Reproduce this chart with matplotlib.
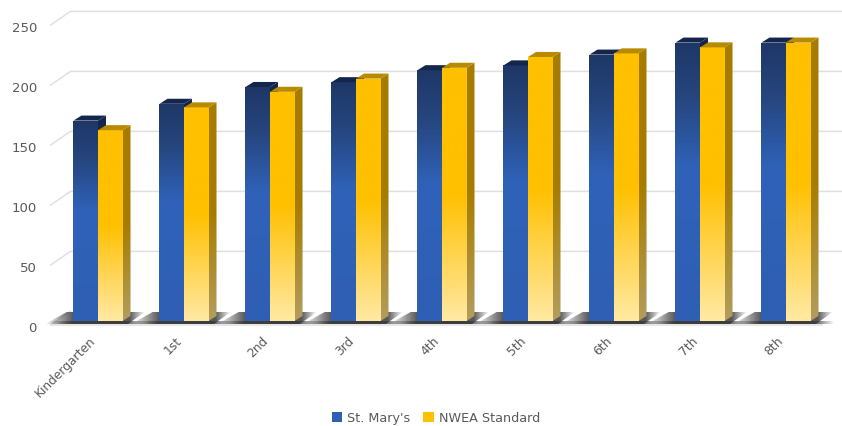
import matplotlib
matplotlib.use('Agg')
import matplotlib.pyplot as plt
import numpy as np
from matplotlib.colors import LinearSegmentedColormap, to_rgb
from matplotlib.patches import Patch, Polygon
from matplotlib.transforms import ScaledTranslation

# values
grades = ['Kindergarten', '1st', '2nd', '3rd', '4th', '5th', '6th', '7th', '8th']
st_marys = [167, 181, 195, 199, 209, 213, 222, 232, 232]
nwea = [159, 178, 191, 202, 211, 220, 223, 228, 232]
y_ticks = [0, 50, 100, 150, 200, 250]

TEXT = '#595959'
GRID = '#e0e0e0'
BAR_W = 0.285
DX, DY = 0.093, 4.2      # depth of the fake 3d, in data units
BACK_X, BACK_Y = 0.23, 8  # offset of the back wall from the front plane

fig = plt.figure(figsize=(8.42, 4.27), dpi=100)
ax = fig.add_axes([55 / 842, 105 / 427, 774 / 842, 300 / 427])
ax.patch.set_visible(False)
for s in ax.spines.values():
    s.set_visible(False)


def shaded(corners, stops, zorder, horizontal=False):
    # gradient filled polygon: imshow clipped to the shape
    cmap = LinearSegmentedColormap.from_list('g', stops)
    xs = [c[0] for c in corners]
    ys = [c[1] for c in corners]
    grad = np.linspace(1, 0, 256).reshape(-1, 1)
    if horizontal:
        grad = np.linspace(0, 1, 256).reshape(1, -1)
    im = ax.imshow(grad, cmap=cmap, vmin=0, vmax=1, aspect='auto', zorder=zorder,
                   extent=(min(xs), max(xs), min(ys), max(ys)),
                   interpolation='bilinear', origin='upper')
    im.set_clip_box(fig.bbox)  # floor goes below the axes box
    im.set_clip_path(Polygon(corners, closed=True, transform=ax.transData))


blue_face = [(0, '#2e5fb5'), (0.55, '#2f62b8'), (0.8, '#26467f'), (1, '#1e3766')]
gold_face = [(0, '#ffe9a3'), (0.5, '#ffc000'), (1, '#ffc000')]
gold_side = [(0, '#b39d5e'), (0.5, '#a67c00'), (1, '#a67c00')]
blue_side = [(0, '#1f3d75'), (1, '#14264d')]
shade = to_rgb('#3a3a3a')

# walls and floor lines
for v in y_ticks[1:]:
    ax.plot([-0.55, -0.55 + BACK_X, 8.8], [v - 3.3, v + BACK_Y, v + BACK_Y],
            color=GRID, lw=1.1, clip_on=False, zorder=1)
ax.plot([-0.55, 8.42], [-3.3, -3.3], color=GRID, lw=1.1, clip_on=False, zorder=1)
ax.plot([-0.55, -0.55 + BACK_X], [-3.3, BACK_Y], color=GRID, lw=1.1, clip_on=False, zorder=1)

for i, (a, b) in enumerate(zip(st_marys, nwea)):
    x0 = i - BAR_W
    x1 = i
    x2 = i + BAR_W

    # floor shadow, skewed like the floor
    stops = [(0, (*shade, 0)), (0.28, (*shade, 0.85)), (0.85, (*shade, 0.85)), (1, (*shade, 0))]
    shaded([(x0 - 0.33, -2.6), (x2 + 0.06, -2.6), (x2 + 0.26, BACK_Y - 0.5), (x0 - 0.08, BACK_Y - 0.5)],
           stops, 2, horizontal=True)
    band = [(0, (*shade, 0)), (0.25, (*shade, 0.85)), (0.8, (*shade, 0.85)), (1, (*shade, 0))]
    shaded([(x0 - 0.27, -2.8), (x2 + 0.27, -2.8), (x2 + 0.27, -0.4), (x0 - 0.27, -0.4)],
           band, 2.5, horizontal=True)

    # blue bar
    shaded([(x1, 0), (x1 + DX, DY), (x1 + DX, a + DY), (x1, a)], blue_side, 3)
    shaded([(x0, 0), (x1, 0), (x1, a), (x0, a)], blue_face, 4)
    ax.add_patch(Polygon([(x0, a), (x1, a), (x1 + DX, a + DY), (x0 + DX, a + DY)],
                         closed=True, fc='#14264d', ec='none', zorder=4))

    # gold bar
    shaded([(x2, 0), (x2 + DX, DY), (x2 + DX, b + DY), (x2, b)], gold_side, 5)
    shaded([(x1, 0), (x2, 0), (x2, b), (x1, b)], gold_face, 6)
    ax.add_patch(Polygon([(x1, b), (x2, b), (x2 + DX, b + DY), (x1 + DX, b + DY)],
                         closed=True, fc='#b88a00', ec='none', zorder=6))

ax.set_xlim(-0.5, 8.5)
ax.set_ylim(0, 250)

ax.set_yticks(y_ticks)
ax.tick_params(axis='y', length=0, pad=13, labelsize=9.5, labelcolor=TEXT)
shift = ScaledTranslation(0, -5.5 / 100, fig.dpi_scale_trans)
for lab in ax.get_yticklabels():
    lab.set_transform(lab.get_transform() + shift)

ax.set_xticks(range(len(grades)))
ax.set_xticklabels(grades, rotation=45, ha='right', va='top', rotation_mode='anchor')
ax.tick_params(axis='x', length=0, pad=9, labelsize=8.8, labelcolor=TEXT)
shift_x = ScaledTranslation(-9 / 100, 0, fig.dpi_scale_trans)
for lab in ax.get_xticklabels():
    lab.set_transform(lab.get_transform() + shift_x)

handles = [Patch(fc='#2e5fb5', label="St. Mary's"), Patch(fc='#ffc000', label='NWEA Standard')]
ax.legend(handles=handles, loc='center', bbox_to_anchor=(436 / 842, 1 - 419 / 427),
          bbox_transform=fig.transFigure, ncol=2, frameon=False, fontsize=9.2,
          labelcolor=TEXT, handlelength=0.8, handleheight=0.8, handletextpad=0.4,
          columnspacing=1.0, borderpad=0)

fig.savefig('out.png', dpi=100)
